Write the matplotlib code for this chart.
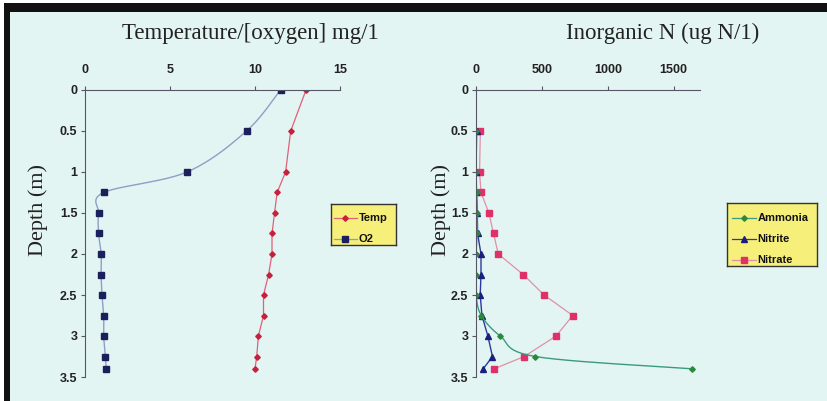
import numpy as np
import matplotlib
matplotlib.use("Agg")
import matplotlib.pyplot as plt
from matplotlib.patches import Rectangle

# ---- data ----
depth_left = [0, 0.5, 1, 1.25, 1.5, 1.75, 2, 2.25, 2.5, 2.75, 3, 3.25, 3.4]
temp = [13.0, 12.1, 11.8, 11.3, 11.15, 11.0, 11.0, 10.8, 10.5, 10.5, 10.2, 10.1, 10.0]
o2 = [11.5, 9.5, 6.0, 1.1, 0.8, 0.8, 0.95, 0.95, 1.0, 1.1, 1.1, 1.2, 1.25]

depth_right = [0.5, 1, 1.25, 1.5, 1.75, 2, 2.25, 2.5, 2.75, 3, 3.25, 3.4]
ammonia = [0, 0, 5, 8, 8, 0, 0, 0, 40, 184, 450, 1640]
nitrite = [5, 0, 3, 10, 12, 38, 38, 32, 45, 90, 125, 55]
nitrate = [33, 27, 38, 98, 133, 169, 358, 517, 734, 608, 366, 138]

left_xticks = [0, 5, 10, 15]
right_xticks = [0, 500, 1000, 1500]
yticks = [0, 0.5, 1, 1.5, 2, 2.5, 3, 3.5]
ytick_labels = ["0", "0.5", "1", "1.5", "2", "2.5", "3", "3.5"]

BG = "#e3f5f2"
W, H = 827, 401


def smooth(xs, ys, n=12):
    # Catmull-Rom curve through the points (Excel-style smoothed line)
    p = np.column_stack([xs, ys]).astype(float)
    p = np.vstack([p[0], p, p[-1]])
    out = []
    for i in range(1, len(p) - 2):
        p0, p1, p2, p3 = p[i - 1], p[i], p[i + 1], p[i + 2]
        t = np.linspace(0, 1, n, endpoint=False)[:, None]
        c = 0.5 * ((2 * p1) + (-p0 + p2) * t + (2 * p0 - 5 * p1 + 4 * p2 - p3) * t ** 2
                   + (-p0 + 3 * p1 - 3 * p2 + p3) * t ** 3)
        out.append(c)
    out.append(p[-2][None, :])
    c = np.vstack(out)
    return c[:, 0], c[:, 1]


def pax(x0, x1, y0, y1):
    return [x0 / W, 1 - y1 / H, (x1 - x0) / W, (y1 - y0) / H]


fig = plt.figure(figsize=(8.27, 4.01), dpi=100)
fig.patch.set_facecolor("white")
fig.patches.append(Rectangle((4 / W, 0), 823 / W, 398 / H, transform=fig.transFigure,
                             facecolor=BG, edgecolor="none", zorder=-5))
# black frame bands (top, left)
fig.patches.append(Rectangle((4 / W, 1 - 12 / H), 823 / W, 9 / H, transform=fig.transFigure,
                             facecolor="#111111", edgecolor="none"))
fig.patches.append(Rectangle((4 / W, 0), 6 / W, 398 / H, transform=fig.transFigure,
                             facecolor="#111111", edgecolor="none"))

ax1 = fig.add_axes(pax(85, 340, 90, 377))
ax2 = fig.add_axes(pax(476, 700, 90, 377))

for ax, lab_x in ((ax1, 38), (ax2, 441)):
    ax.set_facecolor("none")
    ax.set_ylim(3.5, 0)
    ax.xaxis.tick_top()
    ax.spines["right"].set_visible(False)
    ax.spines["bottom"].set_visible(False)
    ax.spines["left"].set_color("#555566")
    ax.spines["top"].set_color("#555566")
    ax.tick_params(direction="out", length=3, width=0.8, color="#555566", pad=2.5)
    ax.tick_params(axis="x", pad=7)
    ax.set_yticks(yticks)
    ax.set_yticklabels(ytick_labels, fontfamily="Liberation Sans", fontweight="bold",
                       fontsize=9, color="#222222")
    ax.set_ylabel("Depth (m)", fontfamily="Liberation Serif", fontsize=16, color="#222222",
                  va="center")
    bb = ax.get_position()
    ax.yaxis.set_label_coords((lab_x / W - bb.x0) / bb.width, (377 - 210) / 287)

# left panel
ax1.set_xlim(0, 15)
ax1.set_xticks(left_xticks)
ax1.set_xticklabels([str(v) for v in left_xticks], fontfamily="Liberation Sans",
                    fontweight="bold", fontsize=9, color="#222222")
sx, sy = smooth(o2, depth_left)
ax1.plot(sx, sy, color="#8d9fc4", lw=1.0)
ax1.plot(o2, depth_left, ls="none", marker="s", ms=4.5, color="#1b1f5c")
ax1.plot(temp, depth_left, color="#e0607a", lw=0.9)
ax1.plot(temp, depth_left, ls="none", marker="D", ms=2.8, color="#c8203c")
fig.text(250 / W, 1 - 33 / H, "Temperature/[oxygen] mg/1", ha="center", va="center",
         fontfamily="Liberation Serif", fontsize=16.5, color="#222222")

# right panel
ax2.set_xlim(0, 1700)
ax2.set_xticks(right_xticks)
ax2.set_xticklabels([str(v) for v in right_xticks], fontfamily="Liberation Sans",
                    fontweight="bold", fontsize=9, color="#222222")
ax2.plot(nitrate, depth_right, color="#e090a8", lw=0.9)
ax2.plot(nitrate, depth_right, ls="none", marker="s", ms=4.5, color="#e0306a")
ax2.plot(nitrite, depth_right, color="#2a3aa0", lw=1.0)
ax2.plot(nitrite, depth_right, ls="none", marker="^", ms=4.5, color="#1b1f7c")
mx, my = smooth(ammonia, depth_right)
ax2.plot(mx, my, color="#3a9a80", lw=1.0)
ax2.plot(ammonia, depth_right, ls="none", marker="D", ms=2.8, color="#2a8a3a")
fig.text(663 / W, 1 - 33 / H, "Inorganic N (ug N/1)", ha="center", va="center",
         fontfamily="Liberation Serif", fontsize=16.5, color="#222222")

# legends
def legend_box(x0, y0, x1, y1, entries, l0, l1, tx):
    lax = fig.add_axes(pax(x0, x1, y0, y1))
    lax.set_xlim(0, 1)
    lax.set_ylim(len(entries) + 0.3, 0.3)
    lax.set_facecolor("#f6ef7a")
    for s in lax.spines.values():
        s.set_color("#333333")
        s.set_linewidth(1.0)
    lax.set_xticks([])
    lax.set_yticks([])
    for i, (label, lc, mc, mk) in enumerate(entries, start=1):
        lax.plot([l0, l1], [i, i], color=lc, lw=0.9)
        lax.plot([(l0 + l1) / 2], [i], marker=mk, ms=4 if mk != "D" else 2.8, color=mc)
        lax.text(tx, i, label, va="center", ha="left", fontfamily="Liberation Sans",
                 fontweight="bold", fontsize=8, color="#111111")

legend_box(331, 204, 396, 245, [("Temp", "#e0607a", "#c8203c", "D"),
                                ("O2", "#8d9fc4", "#1b1f5c", "s")], 0.04, 0.40, 0.43)
legend_box(727, 203, 817, 266, [("Ammonia", "#3a9a80", "#2a8a3a", "D"),
                                ("Nitrite", "#2a3aa0", "#1b1f7c", "^"),
                                ("Nitrate", "#e090a8", "#e0306a", "s")], 0.05, 0.32, 0.34)

fig.savefig("out.png", dpi=100, facecolor=fig.get_facecolor())
